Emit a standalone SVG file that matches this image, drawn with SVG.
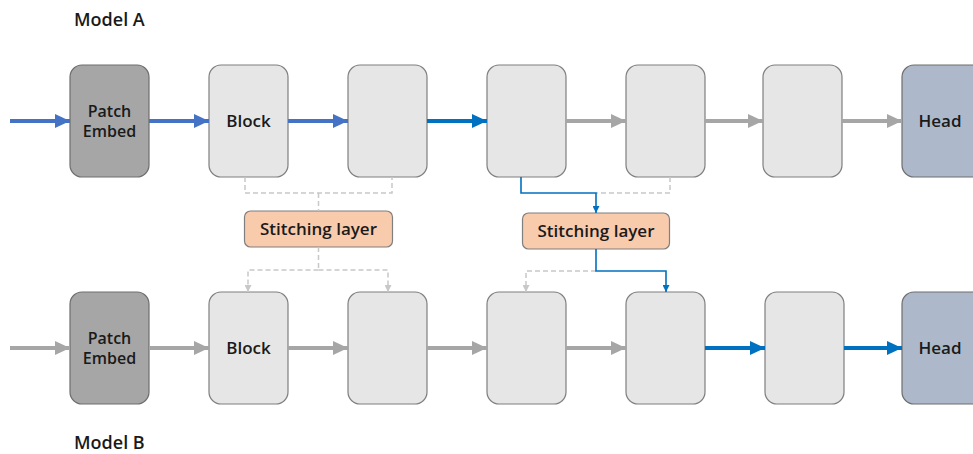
<svg xmlns="http://www.w3.org/2000/svg" width="973" height="454" viewBox="0 0 973 454">
  <style>
    text { font-family: "Open Sans", "Noto Sans", "Liberation Sans", sans-serif; font-weight: 600; fill: #1a1a1a; }
    .block { fill: #E6E6E6; stroke: #7F7F7F; stroke-width: 1.2; }
    .embed { fill: #A6A6A6; stroke: #6E6E6E; stroke-width: 1.2; }
    .head { fill: #ADB9CA; stroke: #6E6E6E; stroke-width: 1.2; }
    .stitch { fill: #F8CBAD; stroke: #7F7F7F; stroke-width: 1.2; }
    .lbl { font-size: 17px; text-anchor: middle; }
    .small { font-size: 16px; }
    .title { font-size: 18px; }
    .a-light { stroke: #4472C4; stroke-width: 4; fill: none; marker-end: url(#head-light); }
    .a-blue { stroke: #0070C0; stroke-width: 4; fill: none; marker-end: url(#head-blue); }
    .a-gray { stroke: #A6A6A6; stroke-width: 4; fill: none; marker-end: url(#head-gray); }
    .dash { stroke: #C8C8C8; stroke-width: 1.5; stroke-dasharray: 5 3; fill: none; }
    .dash-end { marker-end: url(#tip-gray); }
    .route { stroke: #0070C0; stroke-width: 1.6; fill: none; }
    .route-end { marker-end: url(#tip-blue); }
  </style>
  <defs>
    <marker id="head-light" markerUnits="userSpaceOnUse" markerWidth="15" markerHeight="14" refX="15" refY="7" orient="auto">
      <path d="M0,0 L15,7 L0,14 Z" fill="#4472C4"/>
    </marker>
    <marker id="head-blue" markerUnits="userSpaceOnUse" markerWidth="15" markerHeight="14" refX="15" refY="7" orient="auto">
      <path d="M0,0 L15,7 L0,14 Z" fill="#0070C0"/>
    </marker>
    <marker id="head-gray" markerUnits="userSpaceOnUse" markerWidth="15" markerHeight="14" refX="15" refY="7" orient="auto">
      <path d="M0,0 L15,7 L0,14 Z" fill="#A6A6A6"/>
    </marker>
    <marker id="tip-gray" markerUnits="userSpaceOnUse" markerWidth="7" markerHeight="7" refX="7" refY="3.5" orient="auto">
      <path d="M0,0 L7,3.5 L0,7 Z" fill="#C8C8C8"/>
    </marker>
    <marker id="tip-blue" markerUnits="userSpaceOnUse" markerWidth="7" markerHeight="7" refX="7" refY="3.5" orient="auto">
      <path d="M0,0 L7,3.5 L0,7 Z" fill="#0070C0"/>
    </marker>
  </defs>

  <text class="title" x="74" y="26">Model A</text>
  <text class="title" x="74" y="449">Model B</text>

  <!-- Model A -->
  <g id="a-embed"><rect class="embed" x="70" y="65" width="79" height="112" rx="12"/>
    <text class="lbl small" x="109.5" y="117">Patch</text>
    <text class="lbl small" x="109.5" y="137">Embed</text></g>
  <g id="a-block1"><rect class="block" x="209" y="65" width="79" height="112" rx="12"/>
    <text class="lbl" x="248.5" y="127">Block</text></g>
  <g id="a-block2"><rect class="block" x="348" y="65" width="79" height="112" rx="12"/></g>
  <g id="a-block3"><rect class="block" x="487" y="65" width="79" height="112" rx="12"/></g>
  <g id="a-block4"><rect class="block" x="626" y="65" width="79" height="112" rx="12"/></g>
  <g id="a-block5"><rect class="block" x="763" y="65" width="79" height="112" rx="12"/></g>
  <g id="a-head"><rect class="head" x="902" y="65" width="90" height="112" rx="12"/>
    <text class="lbl" x="940" y="127">Head</text></g>

  <!-- Model B -->
  <g id="b-embed"><rect class="embed" x="70" y="292" width="79" height="112" rx="12"/>
    <text class="lbl small" x="109.5" y="344">Patch</text>
    <text class="lbl small" x="109.5" y="364">Embed</text></g>
  <g id="b-block1"><rect class="block" x="209" y="292" width="79" height="112" rx="12"/>
    <text class="lbl" x="248.5" y="354">Block</text></g>
  <g id="b-block2"><rect class="block" x="348" y="292" width="79" height="112" rx="12"/></g>
  <g id="b-block3"><rect class="block" x="487" y="292" width="79" height="112" rx="12"/></g>
  <g id="b-block4"><rect class="block" x="626" y="292" width="79" height="112" rx="12"/></g>
  <g id="b-block5"><rect class="block" x="765" y="292" width="79" height="112" rx="12"/></g>
  <g id="b-head"><rect class="head" x="902" y="292" width="90" height="112" rx="12"/>
    <text class="lbl" x="940" y="354">Head</text></g>

  <!-- Stitching layers -->
  <g id="stitch1"><rect class="stitch" x="244.5" y="211" width="148" height="36" rx="6"/>
    <text class="lbl" x="318.5" y="235">Stitching layer</text></g>
  <g id="stitch2"><rect class="stitch" x="522.5" y="213" width="147" height="36" rx="6"/>
    <text class="lbl" x="596" y="237">Stitching layer</text></g>

  <g id="connectors">
    <!-- Model A forward path -->
    <line class="a-light" x1="10" y1="121" x2="70" y2="121"/>
    <line class="a-light" x1="149" y1="121" x2="209" y2="121"/>
    <line class="a-light" x1="288" y1="121" x2="348" y2="121"/>
    <line class="a-blue" x1="427" y1="121" x2="487" y2="121"/>
    <line class="a-gray" x1="566" y1="121" x2="626" y2="121"/>
    <line class="a-gray" x1="705" y1="121" x2="763" y2="121"/>
    <line class="a-gray" x1="842" y1="121" x2="902" y2="121"/>

    <!-- Model B forward path -->
    <line class="a-gray" x1="10" y1="348" x2="70" y2="348"/>
    <line class="a-gray" x1="149" y1="348" x2="209" y2="348"/>
    <line class="a-gray" x1="288" y1="348" x2="348" y2="348"/>
    <line class="a-gray" x1="427" y1="348" x2="487" y2="348"/>
    <line class="a-gray" x1="566" y1="348" x2="626" y2="348"/>
    <line class="a-blue" x1="705" y1="348" x2="765" y2="348"/>
    <line class="a-blue" x1="844" y1="348" x2="902" y2="348"/>

    <!-- Stitching layer 1 (candidate, dashed) -->
    <path class="dash" d="M245,177 V193 H392 V177"/>
    <path class="dash" d="M318.5,193 V211"/>
    <path class="dash" d="M318.5,247 V270"/>
    <path class="dash dash-end" d="M318.5,270 H248 V292"/>
    <path class="dash dash-end" d="M318.5,270 H388 V292"/>

    <!-- Stitching layer 2 (active route) -->
    <path class="dash" d="M670,177 V193 H596"/>
    <path class="route route-end" d="M521,177 V193 H596 V213"/>
    <path class="dash dash-end" d="M596,271 H526 V292"/>
    <path class="route route-end" d="M596,249 V271 H666 V292"/>
  </g>
</svg>
